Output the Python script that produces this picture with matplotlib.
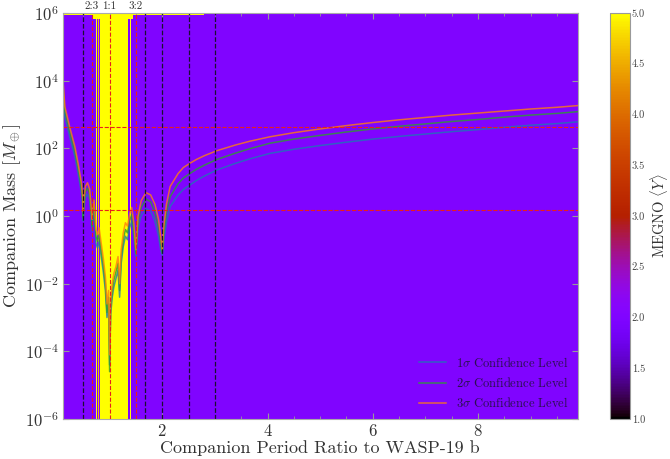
import matplotlib.pyplot as plt
import matplotlib.ticker as mticker
import numpy as np

plt.rcParams.update({
    'font.family': 'serif',
    'font.serif': ['cmr10'],
    'mathtext.fontset': 'cm',
    'axes.formatter.use_mathtext': True,
    'axes.unicode_minus': False,
})

# MEGNO map: column edges in period ratio, three mass bands (edges in Earth masses)
megno_x_edges = [0.114, 0.62, 0.69, 0.74, 0.76, 0.78, 0.795, 0.81, 1.355, 1.39, 1.41, 1.45, 2.80, 9.89]
megno_y_edges = [1e-6, 6.5e5, 8.9e5, 1e6]
megno_body = [2, 2, 2, 5, 2, 4.6, 2, 5, 2, 5, 2, 2, 2]
megno_upper = [2, 2, 5, 5, 5, 5, 5, 5, 5, 5, 5, 2, 2]
megno_top = [5, 5, 5, 5, 5, 5, 5, 5, 5, 5, 5, 5, 2]

# upper mass limits (log10 of Earth masses)
x_ratio = [0.114, 0.15, 0.24, 0.34, 0.40, 0.465, 0.49, 0.50, 0.51, 0.54,
           0.58, 0.62, 0.65, 0.667, 0.68, 0.705, 0.72, 0.74, 0.77, 0.80,
           0.84, 0.88, 0.92, 0.95, 0.98, 1.00, 1.02, 1.05, 1.08, 1.12,
           1.16, 1.19, 1.22, 1.26, 1.30, 1.34, 1.38, 1.42, 1.46, 1.50,
           1.54, 1.60, 1.69, 1.78, 1.86, 1.93, 1.97, 2.00, 2.03, 2.08,
           2.15, 2.30, 2.40, 2.53, 2.65, 2.80, 3.04, 3.40, 3.67, 4.05,
           4.50, 5.00, 5.50, 6.00, 6.50, 7.00, 7.50, 8.00, 8.50, 9.00,
           9.50, 9.89]
logm_3sig = [4.02, 3.23, 2.64, 2.05, 1.56, 0.97, 0.55, 0.12, 0.50, 0.88,
             0.98, 0.80, 0.25, -0.10, 0.20, 0.47, 0.10, -0.40, -0.55, -0.35,
             -0.80, -1.25, -1.80, -2.60, -2.20, -4.10, -2.50, -2.00, -1.70, -1.50,
             -1.20, -2.00, -1.00, -0.50, -0.20, -0.30, 0.05, 0.25, -0.20, -1.00,
             0.00, 0.45, 0.69, 0.62, 0.35, -0.10, -0.60, -1.00, -0.30, 0.35,
             0.87, 1.25, 1.43, 1.56, 1.67, 1.78, 1.93, 2.10, 2.21, 2.34,
             2.46, 2.57, 2.67, 2.76, 2.84, 2.91, 2.98, 3.04, 3.10, 3.16,
             3.21, 3.26]
logm_2sig = [3.88, 3.08, 2.50, 1.90, 1.42, 0.82, 0.40, -0.05, 0.35, 0.72,
             0.82, 0.65, 0.10, -0.30, 0.05, 0.30, -0.10, -0.60, -0.75, -0.55,
             -1.00, -1.45, -2.00, -2.85, -2.40, -4.60, -2.70, -2.20, -1.90, -1.65,
             -1.40, -2.20, -1.20, -0.70, -0.40, -0.50, -0.15, 0.05, -0.40, -1.10,
             -0.15, 0.25, 0.50, 0.42, 0.10, -0.35, -0.80, -1.10, -0.50, 0.10,
             0.57, 0.95, 1.12, 1.26, 1.38, 1.50, 1.67, 1.86, 1.99, 2.15,
             2.27, 2.38, 2.48, 2.57, 2.65, 2.72, 2.79, 2.85, 2.92, 2.98,
             3.03, 3.08]
logm_1sig = [3.72, 2.92, 2.35, 1.75, 1.27, 0.67, 0.25, -0.15, 0.20, 0.55,
             0.65, 0.48, -0.05, -0.45, -0.10, 0.12, -0.30, -0.80, -0.95, -0.75,
             -1.20, -1.65, -2.20, -3.00, -2.60, -4.40, -2.90, -2.40, -2.10, -1.85,
             -1.60, -2.40, -1.40, -0.90, -0.60, -0.70, -0.35, -0.15, -0.60, -1.20,
             -0.35, 0.00, 0.22, 0.15, -0.15, -0.60, -1.00, -1.15, -0.70, -0.20,
             0.28, 0.62, 0.78, 0.92, 1.05, 1.18, 1.36, 1.56, 1.69, 1.85,
             1.97, 2.08, 2.18, 2.27, 2.35, 2.42, 2.49, 2.55, 2.62, 2.68,
             2.73, 2.78]

resonances = [0.5, 5 / 3, 2.0, 2.5, 3.0]
labelled_res = [2 / 3, 1.0, 1.5]
labelled_names = ['2:3', '1:1', '3:2']
planet_mass = 10 ** 2.62
earth_line = 1.5

fig = plt.figure(figsize=(6.7, 4.59), dpi=100)
ax = fig.add_axes([0.094, 0.087, 0.768, 0.885])
cax = fig.add_axes([0.910, 0.087, 0.030, 0.885])

C = np.array([megno_body, megno_upper, megno_top])
mesh = ax.pcolormesh(megno_x_edges, megno_y_edges, C, cmap='gnuplot',
                     vmin=1, vmax=5, shading='flat', rasterized=True)

ax.plot(x_ratio, 10 ** np.array(logm_1sig), color='#1f77b4', lw=1.1, alpha=0.8,
        label=r'1$\sigma$ Confidence Level')
ax.plot(x_ratio, 10 ** np.array(logm_2sig), color='#2ca02c', lw=1.1, alpha=0.8,
        label=r'2$\sigma$ Confidence Level')
ax.plot(x_ratio, 10 ** np.array(logm_3sig), color='#ff7f0e', lw=1.1, alpha=0.8,
        label=r'3$\sigma$ Confidence Level')

for r in resonances:
    ax.axvline(r, color='#1a1030', ls='--', lw=0.9)
for r, name in zip(labelled_res, labelled_names):
    ax.axvline(r, color='#e8201a', ls='--', lw=0.8)
    ax.text(r, 1.004, name, transform=ax.get_xaxis_transform(), ha='center',
            va='bottom', fontsize=8, color='#333333')
ax.axhline(planet_mass, color='#e8201a', ls='--', lw=0.8)
ax.axhline(earth_line, color='#e8201a', ls='--', lw=0.8)

ax.set_yscale('log')
ax.set_xlim(0.114, 9.89)
ax.set_ylim(1e-6, 1e6)
ax.set_yticks([1e-6, 1e-4, 1e-2, 1e0, 1e2, 1e4, 1e6])
ax.yaxis.set_minor_locator(mticker.NullLocator())
ax.set_xticks([2, 4, 6, 8])
ax.xaxis.set_minor_locator(mticker.MultipleLocator(0.5))
ax.tick_params(which='both', direction='in', top=True, right=True,
               color='#999999', labelcolor='#333333', labelsize=12, pad=3)
ax.tick_params(which='major', length=4)
ax.tick_params(which='minor', length=2)
for s in ax.spines.values():
    s.set_color('#aaaaaa')

ax.set_xlabel('Companion Period Ratio to WASP-19 b', fontsize=13, color='#333333',
              labelpad=1)
ax.set_ylabel(r'Companion Mass [$M_\oplus$]', fontsize=13, color='#333333',
              labelpad=1)

leg = ax.legend(loc='lower right', frameon=False, fontsize=9, handlelength=2.2,
                borderaxespad=0.3)
for t in leg.get_texts():
    t.set_color('#2a1050')

cb = fig.colorbar(mesh, cax=cax)
cb.set_ticks(np.arange(1.0, 5.01, 0.5))
cb.ax.yaxis.set_major_formatter(mticker.FormatStrFormatter('%.1f'))
cb.ax.tick_params(labelsize=7.5, labelcolor='#444444', color='#999999', length=0, pad=1.5)
cb.outline.set_edgecolor('#999999')
cb.set_label(r'MEGNO $\langle Y \rangle$', fontsize=10.5, color='#333333', labelpad=2)

fig.savefig('out.png', dpi=100)
